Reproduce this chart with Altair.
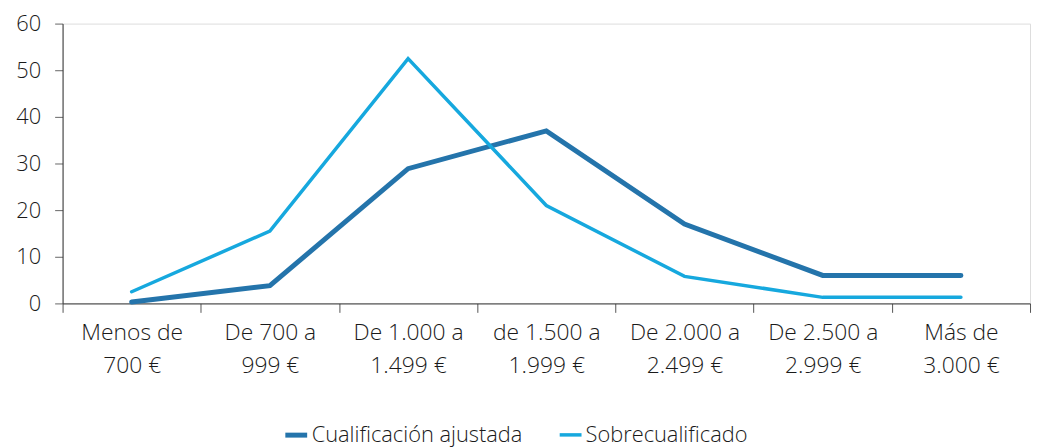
import altair as alt
import pandas as pd

cat_line1 = ["Menos de", "De 700 a", "De 1.000 a", "de 1.500 a", "De 2.000 a", "De 2.500 a", "Más de"]
cat_line2 = ["700 €", "999 €", "1.499 €", "1.999 €", "2.499 €", "2.999 €", "3.000 €"]
categories = [a + "|" + b for a, b in zip(cat_line1, cat_line2)]

series_names = ["Cualificación ajustada", "Sobrecualificado"]
ajustada = [0.3, 3.8, 28.9, 37.0, 17.0, 6.0, 6.0]
sobre = [2.5, 15.5, 52.5, 21.0, 5.8, 1.3, 1.3]
y_ticks = [0, 10, 20, 30, 40, 50, 60]
colors = ["#2474AB", "#16A8DE"]
widths = [5, 3.5]

rows = []
for name, vals in zip(series_names, [ajustada, sobre]):
    for c, v in zip(categories, vals):
        rows.append({"cat": c, "serie": name, "valor": v})
df = pd.DataFrame(rows)

FONT = "Open Sans"

x = alt.X(
    "cat:N",
    sort=categories,
    scale=alt.Scale(type="band", paddingInner=0, paddingOuter=0),
    axis=alt.Axis(
        title=None,
        labelAngle=0,
        labelExpr="split(datum.label, '|')",
        tickBand="extent",
        tickSize=9,
        labelPadding=9,
        labelLineHeight=34,
        labelFontSize=23,
        labelFont=FONT,
        labelFontWeight=300,
        labelColor="#1a1a1a",
        domainColor="#333333",
        tickColor="#555555",
        labelBaseline="top",
    ),
)
y = alt.Y(
    "valor:Q",
    scale=alt.Scale(domain=[0, 60], nice=False),
    axis=alt.Axis(
        title=None,
        values=y_ticks,
        grid=False,
        tickSize=8,
        labelPadding=14,
        labelFontSize=22,
        labelFont=FONT,
        labelFontWeight=300,
        labelColor="#1a1a1a",
        domainColor="#333333",
        tickColor="#666666",
    ),
)

color = alt.Color(
    "serie:N",
    scale=alt.Scale(domain=series_names, range=colors),
    legend=alt.Legend(
        title=None,
        orient="none",
        legendX=222,
        legendY=401,
        direction="horizontal",
        symbolType="stroke",
        symbolSize=484,
        symbolStrokeWidth=5,
        labelFontSize=22,
        labelFont=FONT,
        labelFontWeight=300,
        labelColor="#1a1a1a",
        labelOffset=2,
        labelLimit=400,
        columnPadding=30,
        padding=0,
    ),
)

chart = (
    alt.Chart(df)
    .mark_line(strokeCap="round", strokeJoin="miter")
    .encode(
        x=x,
        y=y,
        color=color,
        strokeWidth=alt.StrokeWidth(
            "serie:N",
            scale=alt.Scale(domain=series_names, range=widths),
            legend=None,
        ),
    )
    .properties(
        width=975,
        height=282,
        padding={"left": 55, "top": 14, "right": 3, "bottom": 144},
        autosize=alt.AutoSizeParams(type="none"),
    )
    .configure_view(stroke=None)
    .configure(background="white")
)

chart.save("out.html", embed_options={"renderer": "svg", "actions": False})
